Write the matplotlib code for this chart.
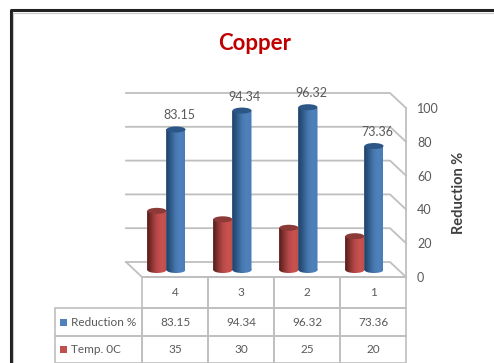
import matplotlib
matplotlib.use("Agg")
import matplotlib.pyplot as plt
import numpy as np
from matplotlib.colors import LinearSegmentedColormap
from matplotlib.lines import Line2D
from matplotlib.path import Path
from matplotlib.patches import Ellipse, Rectangle
from matplotlib.table import Table

categories = ["4", "3", "2", "1"]
reduction = [83.15, 94.34, 96.32, 73.36]
temp = [35, 30, 25, 20]
reduction_labels = ["83.15", "94.34", "96.32", "73.36"]
temp_labels = ["35", "30", "25", "20"]
yticks = [0, 20, 40, 60, 80, 100]

W, H = 494, 363
GRID = "#bfbfbf"
TEXT = "#595959"

plt.rcParams["font.family"] = ["Lato", "DejaVu Sans"]

fig = plt.figure(figsize=(W / 100, H / 100), dpi=100)
ax = fig.add_axes([142 / W, (H - 277) / H, 264 / W, 169 / H])

# size of one pixel in data units
px_x = 4 / 264
px_y = 100 / 169
depth_x = 16 * px_x
depth_y = 15 * px_y
floor = 7 * px_y
bar_w = 19 * px_x
cap_h = 6 * px_y

# back wall gridlines, folding forward to the value axis
for v in yticks:
    ax.plot([-depth_x, 4 - depth_x, 4], [v + depth_y, v + depth_y, v],
            color=GRID, lw=1.3, zorder=1, clip_on=False)
ax.plot([-depth_x, 0, 4], [depth_y, 0, 0], color=GRID, lw=1.3, zorder=1, clip_on=False)
ax.plot([4, 4], [0, 100], color=GRID, lw=1.3, zorder=1, clip_on=False)

blue_map = LinearSegmentedColormap.from_list("b", ["#22405f", "#2f5a8c", "#4777ad", "#4f81bd", "#4a7cb6"])
red_map = LinearSegmentedColormap.from_list("r", ["#4f1c1b", "#8a3431", "#b8494a", "#c9524f", "#c0504d"])
ramp = np.linspace(0, 1, 64).reshape(1, -1)


def cylinder(xc, value, cmap, base_col, cap_col):
    bar = ax.bar(xc, value, bar_w, bottom=floor, color=base_col, zorder=3, clip_on=False)[0]
    foot = Ellipse((xc, floor), bar_w, cap_h)
    # shading covers the body and its rounded foot
    body = Path.make_compound_path(
        bar.get_patch_transform().transform_path(bar.get_path()),
        foot.get_patch_transform().transform_path(foot.get_path()))
    im = ax.imshow(ramp, extent=[xc - bar_w / 2, xc + bar_w / 2, floor - cap_h, floor + value],
                   aspect="auto", cmap=cmap, zorder=3.1)
    im.set_clip_path(body, transform=ax.transData)
    ax.add_patch(Ellipse((xc, floor + value), bar_w, cap_h, color=cap_col, zorder=3.2, lw=0,
                         clip_on=False))


for i in range(len(categories)):
    cylinder(i + 0.225, temp[i], red_map, "#b8494a", "#8c3a38")
    cylinder(i + 0.515, reduction[i], blue_map, "#4777ad", "#2c5685")
    ax.annotate(reduction_labels[i], (i + 0.515, floor + reduction[i]), xytext=(3, 14),
                textcoords="offset pixels", ha="center", va="center",
                fontsize=9, color=TEXT, zorder=5, annotation_clip=False)

ax.set_xlim(0, 4)
ax.set_ylim(0, 100)
ax.set_xticks([])
ax.set_yticks(yticks)
ax.yaxis.tick_right()
ax.tick_params(axis="y", length=0, pad=8, labelsize=9, labelcolor=TEXT)
for s in ax.spines.values():
    s.set_visible(False)
ax.patch.set_alpha(0)

# data table under the plot, with the legend keys in its row headers
tbl = Table(ax, bbox=[-87 / 264, -86 / 169, 351 / 264, 86 / 169])
rows = [(None, categories), ("Reduction %", reduction_labels), ("Temp. 0C", temp_labels)]
heights = [31, 28, 27]
for r, (name, cells) in enumerate(rows):
    if name:
        c = tbl.add_cell(r, 0, 87, heights[r], text=name, loc="left")
        c.PAD = 0.18
    for j, t in enumerate(cells):
        tbl.add_cell(r, j + 1, 66, heights[r], text=t, loc="center")
tbl.auto_set_font_size(False)
tbl.set_fontsize(8.5)
for cell in tbl.get_celld().values():
    cell.set_edgecolor(GRID)
    cell.set_linewidth(1.2)
    cell.set_facecolor("none")
    cell.get_text().set_color(TEXT)
tbl.set_clip_on(False)
ax.add_table(tbl)

# legend keys
fig.add_artist(Rectangle((60 / W, 1 - 326 / H), 7 / W, 7 / H, transform=fig.transFigure,
                         color="#4f81bd", lw=0))
fig.add_artist(Rectangle((60 / W, 1 - 353 / H), 7 / W, 7 / H, transform=fig.transFigure,
                         color="#c0504d", lw=0))

fig.text(255 / W, 1 - 43 / H, "Copper", color="#c00000", fontsize=16, fontweight="bold",
         ha="center", va="center")
fig.text(459 / W, 1 - 193 / H, "Reduction %", color="#404040", fontsize=10.5, fontweight="bold",
         rotation=90, ha="center", va="center")

# frame around the whole chart, running off the right edge
fig.add_artist(Line2D([10.5 / W, 10.5 / W, 1], [0, 1 - 10 / H, 1 - 10 / H],
                      transform=fig.transFigure, color="#222222", lw=2.2))
fig.add_artist(Line2D([13 / W, 1], [1 - 12.5 / H, 1 - 12.5 / H],
                      transform=fig.transFigure, color="#c8c8c8", lw=0.8))
fig.add_artist(Line2D([13 / W, 13 / W], [0, 1 - 12.5 / H],
                      transform=fig.transFigure, color="#c8c8c8", lw=0.8))

fig.savefig("out.png", dpi=100)
